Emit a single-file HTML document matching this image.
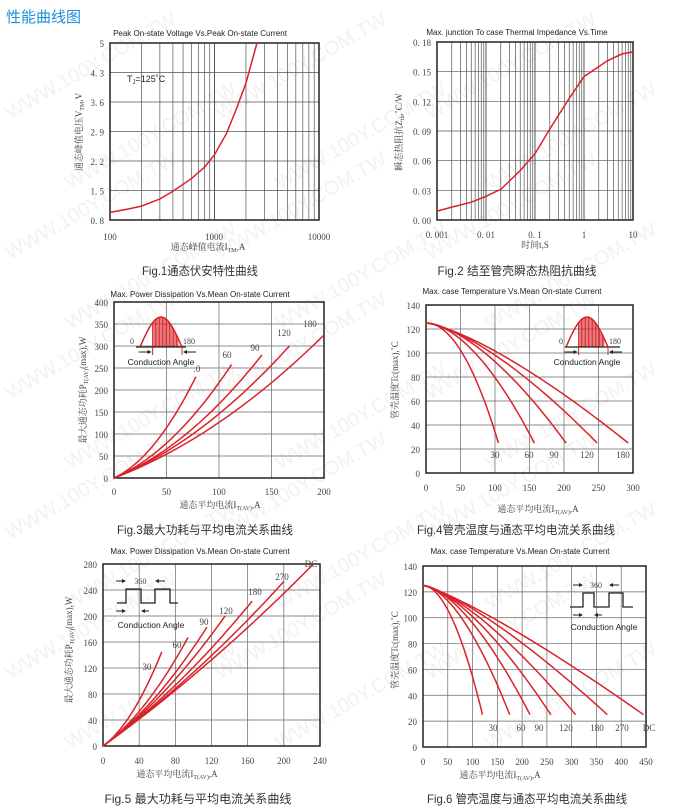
<!DOCTYPE html>
<html><head><meta charset="utf-8">
<style>
html,body{margin:0;padding:0;background:#fff;width:679px;height:812px;overflow:hidden;}
svg{display:block;}
text{font-family:"Liberation Serif","Noto Serif CJK SC",serif;fill:#444;}
.s{font-family:"Liberation Sans","Noto Sans CJK SC",sans-serif;}
</style></head><body>
<svg id="c" width="679" height="812" xmlns="http://www.w3.org/2000/svg"></svg>
<script>
const S=document.getElementById('c');let h='';
const R='#d8232a';
function t(x,y,s,sz,o){o=o||{};h+=`<text x="${x}" y="${y}" font-size="${sz}" ${o.a?`text-anchor="${o.a}"`:''} ${o.c?`class="${o.c}"`:''} ${o.f?`style="fill:${o.f}"`:''} ${o.tr?`transform="${o.tr}"`:''} ${o.tl?`textLength="${o.tl}" lengthAdjust="spacingAndGlyphs"`:''}>${s}</text>`;}
function L(x1,y1,x2,y2,c,w){h+=`<line x1="${x1}" y1="${y1}" x2="${x2}" y2="${y2}" stroke="${c}" stroke-width="${w}"/>`;}
function P(pts,c,w){h+=`<polyline points="${pts.map(p=>p[0].toFixed(1)+','+p[1].toFixed(1)).join(' ')}" fill="none" stroke="${c||R}" stroke-width="${w||1.5}"/>`;}
for(let i=0;i<10;i++)for(let j=0;j<3;j++){let x=10+j*210+(i%2)*60,y=120+i*70;t(x,y,'WWW.100Y.COM.TW',20,{c:'s',f:'#f2f2f2',tr:`rotate(-30 ${x} ${y})`});}
t(6,22,'性能曲线图',15,{c:'s',f:'#1a8fd6'});
function box(x0,y0,x1,y1){h+=`<rect x="${x0}" y="${y0}" width="${x1-x0}" height="${y1-y0}" fill="none" stroke="#222" stroke-width="1.5"/>`;}
function cap(cx,y,s,w){t(cx-w/2,y,s,12,{c:'s',f:'#333',tl:w});}
// Chart 1
{const x0=110,x1=319,y0=43,y1=220,dx=(x1-x0)/2;
for(let d=0;d<2;d++)for(let k=1;k<10;k++){let x=x0+d*dx+Math.log10(k)*dx;L(x,y0,x,y1,'#555',k==1?1:0.7);}
const vs=['0.8','1.5','2.2','2.9','3.6','4.3','5'];
vs.forEach((v,i)=>{let y=y1-i*(y1-y0)/6;L(x0,y,x1,y,'#555',0.7);t(x0-6,y+4,v.replace('.','. '),9,{a:'end'});});
box(x0,y0,x1,y1);
const X=I=>x0+(Math.log10(I)-2)*dx,Y=V=>y1-(V-0.8)/4.2*(y1-y0);
const d=[[100,.98],[150,1.06],[200,1.13],[300,1.3],[400,1.48],[600,1.78],[800,2.05],[1000,2.35],[1300,2.85],[1600,3.4],[2000,4.05],[2300,4.6],[2550,5]];
P(d.map(p=>[X(p[0]),Y(p[1])]));
t(110,240,'100',9,{a:'middle'});t(214,240,'1000',9,{a:'middle'});t(319,240,'10000',9,{a:'middle'});
t(127,82,'T<tspan font-size="6" dy="2">J</tspan><tspan dy="-2">=125˚C</tspan>',9,{c:'s',f:'#222'});
t(200,36,'Peak On-state Voltage Vs.Peak On-state Current',8,{a:'middle',c:'s',f:'#222'});
t(208,250,'通态峰值电流I<tspan font-size="6" dy="2">TM</tspan><tspan dy="-2">,A</tspan>',9,{a:'middle'});
t(82,132,'通态峰值电压V<tspan font-size="6" dy="2">TM</tspan><tspan dy="-2">,V</tspan>',9,{a:'middle',tr:'rotate(-90 82 132)'});
cap(200,275,'Fig.1通态伏安特性曲线',116);}
// Chart 2
{const x0=437,x1=633,y0=42,y1=220,dx=(x1-x0)/4;
for(let d=0;d<4;d++)for(let k=1;k<10;k++){let x=x0+d*dx+Math.log10(k)*dx;L(x,y0,x,y1,'#555',k==1?1:0.7);}
['0.00','0.03','0.06','0.09','0.12','0.15','0.18'].forEach((v,i)=>{let y=y1-i*(y1-y0)/6;L(x0,y,x1,y,'#555',0.7);t(x0-6,y+4,v.replace('.','. '),9,{a:'end'});});
box(x0,y0,x1,y1);
['0.001','0.01','0.1','1','10'].forEach((v,i)=>t(x0+i*dx,238,v.replace('.','. '),9,{a:'middle'}));
const X=v=>x0+(Math.log10(v)+3)*dx,Y=v=>y1-v/0.18*(y1-y0);
const d=[[.001,.009],[.002,.013],[.005,.018],[.01,.024],[.02,.031],[.05,.05],[.1,.067],[.2,.092],[.5,.123],[1,.145],[1.5,.151],[3,.161],[6,.168],[10,.17]];
P(d.map(p=>[X(p[0]),Y(p[1])]));
t(517,35,'Max. junction To case Thermal Impedance Vs.Time',8,{a:'middle',c:'s',f:'#222'});
t(535,248,'时间t,S',9,{a:'middle'});
t(402,132,'瞬态热阻抗Z<tspan font-size="6" dy="2">th</tspan><tspan dy="-2">,˚C/W</tspan>',9,{a:'middle',tr:'rotate(-90 402 132)'});
cap(517,275,'Fig.2 结至管壳瞬态热阻抗曲线',159);}
function sineInset(cx,base,top,lx0,lx1){
 let w=21;let pts=[];for(let i=0;i<=30;i++){let x=cx-w+i*2*w/30;pts.push([x,base-(base-top)*Math.sin(Math.PI*i/30)]);}
 for(let i=9;i<=27;i++){let x=cx-w+i*2*w/30;L(x,base,x,base-(base-top)*Math.sin(Math.PI*i/30),R,1);}
 P(pts,R,1.5);L(lx0,base,lx1,base,'#222',1.2);
 L(cx-w+9*2*w/30,base,cx-w+9*2*w/30,base+8,R,1);L(cx+w,base,cx+w,base+8,R,1);
 let a=cx-w+9*2*w/30;L(a-14,base+5,a-2,base+5,'#222',1);h+=`<polygon points="${a-1},${base+5} ${a-5},${base+3} ${a-5},${base+7}" fill="#222"/>`;
 L(cx+w+2,base+5,cx+w+14,base+5,'#222',1);h+=`<polygon points="${cx+w+1},${base+5} ${cx+w+5},${base+3} ${cx+w+5},${base+7}" fill="#222"/>`;
 t(lx0-2,base-3,'0',8,{a:'end'});t(cx+w+1,base-3,'180',8);
 t(cx,base+18,'Conduction Angle',8.5,{a:'middle',c:'s',f:'#222'});}
function sqInset(x0,x1,base,top,p){
 let pts=[[x0,base],[p[0],base],[p[0],top],[p[1],top],[p[1],base],[p[2],base],[p[2],top],[p[3],top],[p[3],base],[x1,base]];
 P(pts,'#222',1.3);
 let ya=top-8;L(p[0]-10,ya,p[0]-1,ya,'#222',1);h+=`<polygon points="${p[0]},${ya} ${p[0]-4},${ya-2} ${p[0]-4},${ya+2}" fill="#222"/>`;
 L(p[2]+1,ya,p[2]+10,ya,'#222',1);h+=`<polygon points="${p[2]},${ya} ${p[2]+4},${ya-2} ${p[2]+4},${ya+2}" fill="#222"/>`;
 t((p[0]+p[2])/2,ya+3,'360',8,{a:'middle'});
 let yb=base+8;L(p[0]-10,yb,p[0]-1,yb,'#222',1);h+=`<polygon points="${p[0]},${yb} ${p[0]-4},${yb-2} ${p[0]-4},${yb+2}" fill="#222"/>`;
 L(p[1]+1,yb,p[1]+8,yb,'#222',1);h+=`<polygon points="${p[1]},${yb} ${p[1]+4},${yb-2} ${p[1]+4},${yb+2}" fill="#222"/>`;}
function lin(x0,x1,y0,y1,nx,ny,xl,yl,xly){
 for(let i=0;i<=nx;i++){let x=x0+i*(x1-x0)/nx;L(x,y0,x,y1,'#666',0.7);t(x,xly,xl[i],9,{a:'middle'});}
 for(let i=0;i<=ny;i++){let y=y1-i*(y1-y0)/ny;L(x0,y,x1,y,'#666',0.7);t(x0-6,y+4,yl[i],9,{a:'end'});}
 box(x0,y0,x1,y1);}
// Chart 3
{const x0=114,x1=324,y0=302,y1=478;
lin(x0,x1,y0,y1,4,8,['0','50','100','150','200'],['0','50','100','150','200','250','300','350','400'],495);
const X=v=>x0+v/200*(x1-x0),Y=v=>y1-v/400*(y1-y0);
[[78,1.1,.0237],[112,1.0,.01164],[141,.95,.00734],[167,.95,.00507],[200,.9,.003625]].forEach(c=>{let pts=[];for(let i=0;i<=30;i++){let I=c[0]*i/30;pts.push([X(I),Y(c[1]*I+c[2]*I*I)]);}P(pts);});
[['.0',197,372],['60',227,358],['90',255,351],['120',284,336],['180',310,327]].forEach(l=>t(l[1],l[2],l[0],9,{a:'middle'}));
sineInset(161,347,317,136,186);
t(200,297,'Max. Power Dissipation Vs.Mean On-state Current',8,{a:'middle',c:'s',f:'#222'});
t(220,508,'通态平均电流I<tspan font-size="6" dy="2">T(AV)</tspan><tspan dy="-2">,A</tspan>',9,{a:'middle'});
t(86,390,'最大通态功耗P<tspan font-size="6" dy="2">T(AV)</tspan><tspan dy="-2">(max),W</tspan>',9,{a:'middle',tr:'rotate(-90 86 390)'});
cap(205,534,'Fig.3最大功耗与平均电流关系曲线',176);}
// Chart 4
{const x0=426,x1=633,y0=305,y1=473;
lin(x0,x1,y0,y1,6,7,['0','50','100','150','200','250','300'],['0','20','40','60','80','100','120','140'],491);
const X=v=>x0+v/300*(x1-x0),Y=v=>y1-v/140*(y1-y0);
[[105,2],[157,1.75],[203,1.6],[248,1.45],[293,1.35]].forEach(c=>{let pts=[];for(let i=0;i<=30;i++){let I=c[0]*i/30;pts.push([X(I),Y(125-100*Math.pow(I/c[0],c[1]))]);}P(pts);});
[['30',495],['60',529],['90',554],['120',587],['180',623]].forEach(l=>t(l[1],458,l[0],9,{a:'middle'}));
sineInset(587,347,317,565,620);
t(512,294,'Max. case Temperature Vs.Mean On-state Current',8,{a:'middle',c:'s',f:'#222'});
t(538,512,'通态平均电流I<tspan font-size="6" dy="2">T(AV)</tspan><tspan dy="-2">,A</tspan>',9,{a:'middle'});
t(398,380,'管壳温度Tc(max),˚C',9,{a:'middle',tr:'rotate(-90 398 380)'});
cap(516,534,'Fig.4管壳温度与通态平均电流关系曲线',198);}
// Chart 5
{const x0=103,x1=320,y0=564,y1=746;
lin(x0,x1,y0,y1,6,7,['0','40','80','120','160','200','240'],['0','40','80','120','160','200','240','280'],764);
const X=v=>x0+v/240*(x1-x0),Y=v=>y1-v/280*(y1-y0);
[[65,1,.0189],[94,1,.00826],[115,1,.00514],[135,1,.00357],[165,1,.00213],[200,1,.001325],[233,1,.00087]].forEach(c=>{let pts=[];for(let i=0;i<=30;i++){let I=c[0]*i/30;pts.push([X(I),Y(c[1]*I+c[2]*I*I)]);}P(pts);});
[['30',147,670],['60',177,648],['90',204,625],['120',226,614],['180',255,595],['270',282,580],['DC',311,567]].forEach(l=>t(l[1],l[2],l[0],9,{a:'middle'}));
sqInset(117,178,603,589,[126,141,155,170]);
t(151,628,'Conduction Angle',8.5,{a:'middle',c:'s',f:'#222'});
t(200,554,'Max. Power Dissipation Vs.Mean On-state Current',8,{a:'middle',c:'s',f:'#222'});
t(177,777,'通态平均电流I<tspan font-size="6" dy="2">T(AV)</tspan><tspan dy="-2">,A</tspan>',9,{a:'middle'});
t(72,650,'最大通态功耗P<tspan font-size="6" dy="2">T(AV)</tspan><tspan dy="-2">(max),W</tspan>',9,{a:'middle',tr:'rotate(-90 72 650)'});
cap(198,803,'Fig.5 最大功耗与平均电流关系曲线',187);}
// Chart 6
{const x0=423,x1=646,y0=566,y1=747;
lin(x0,x1,y0,y1,9,7,['0','50','100','150','200','250','300','350','400','450'],['0','20','40','60','80','100','120','140'],765);
const X=v=>x0+v/450*(x1-x0),Y=v=>y1-v/140*(y1-y0);
[[120,1.9],[175,1.7],[216,1.6],[258,1.5],[308,1.4],[372,1.3],[445,1.2]].forEach(c=>{let pts=[];for(let i=0;i<=30;i++){let I=c[0]*i/30;pts.push([X(I),Y(125-100*Math.pow(I/c[0],c[1]))]);}P(pts);});
[['30',493],['60',521],['90',539],['120',566],['180',597],['270',622],['DC',649]].forEach(l=>t(l[1],731,l[0],9,{a:'middle'}));
sqInset(570,633,607,593,[583,594,609,623]);
t(604,630,'Conduction Angle',8.5,{a:'middle',c:'s',f:'#222'});
t(520,554,'Max. case Temperature Vs.Mean On-state Current',8,{a:'middle',c:'s',f:'#222'});
t(500,778,'通态平均电流I<tspan font-size="6" dy="2">T(AV)</tspan><tspan dy="-2">,A</tspan>',9,{a:'middle'});
t(398,650,'管壳温度Tc(max),˚C',9,{a:'middle',tr:'rotate(-90 398 650)'});
cap(527,803,'Fig.6 管壳温度与通态平均电流关系曲线',200);}
S.innerHTML=h;
</script>
</body></html>
